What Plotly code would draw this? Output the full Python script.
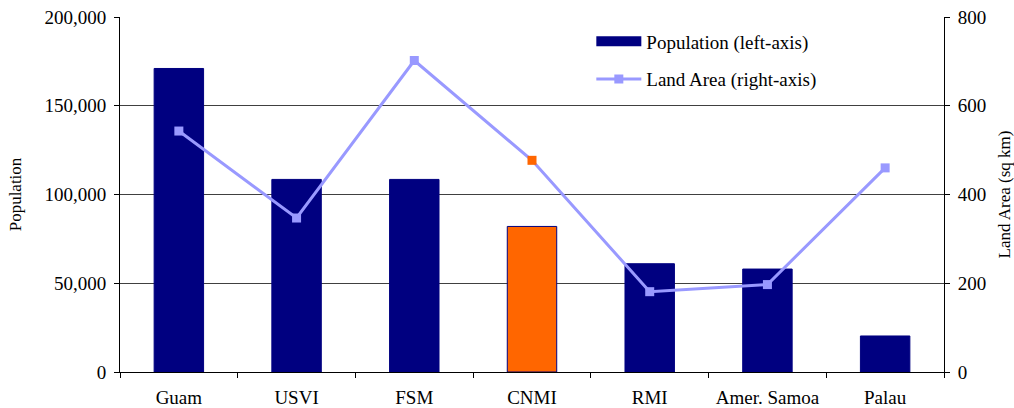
import plotly.graph_objects as go

# Territory data
territories = ["Guam", "USVI", "FSM", "CNMI", "RMI", "Amer. Samoa", "Palau"]
population = [171000, 108500, 108500, 82000, 61000, 58000, 20300]
land_area_sq_km = [543, 347, 702, 477, 181, 197, 460]

left_ticks = [0, 50000, 100000, 150000, 200000]
right_ticks = [0, 200, 400, 600, 800]

NAVY = "#000080"
ORANGE = "#FF6600"
PERIWINKLE = "#9999FF"
FONT = "Liberation Serif"
TICK_SIZE = 19

bar_colors = [ORANGE if t == "CNMI" else NAVY for t in territories]
marker_colors = [ORANGE if t == "CNMI" else PERIWINKLE for t in territories]

fig = go.Figure()

fig.add_trace(go.Bar(
    x=territories,
    y=population,
    name="Population (left-axis)",
    marker=dict(color=bar_colors, line=dict(color=NAVY, width=1)),
    yaxis="y",
    showlegend=False,
))

# legend entry for the bars, drawn as a wide swatch
fig.add_trace(go.Scatter(
    x=[None], y=[None],
    name="Population (left-axis)",
    mode="lines",
    line=dict(color=NAVY, width=12),
    legendgroup="pop",
    showlegend=True,
))

fig.add_trace(go.Scatter(
    x=territories,
    y=land_area_sq_km,
    name="Land Area (right-axis)",
    mode="lines+markers",
    line=dict(color=PERIWINKLE, width=3),
    marker=dict(symbol="square", size=9, color=marker_colors),
    yaxis="y2",
    legendgroup="area",
))

fig.update_layout(
    width=1014,
    height=408,
    margin=dict(l=120, r=70, t=17, b=36),
    paper_bgcolor="white",
    plot_bgcolor="white",
    font=dict(family=FONT, size=TICK_SIZE, color="black"),
    bargap=0.58,
    showlegend=True,
    legend=dict(
        x=0.572, y=0.985, xanchor="left", yanchor="top",
        bgcolor="rgba(0,0,0,0)",
        font=dict(family=FONT, size=TICK_SIZE, color="black"),
        tracegroupgap=10,
        itemwidth=45,
    ),
    xaxis=dict(
        type="category",
        automargin=False,
        showline=True, linecolor="black", linewidth=1,
        ticks="outside", tickson="boundaries", ticklen=5, tickcolor="black",
        ticklabelstandoff=8,
        showgrid=False,
        tickfont=dict(family=FONT, size=TICK_SIZE, color="black"),
    ),
    yaxis=dict(
        range=[0, 200000],
        tickvals=left_ticks,
        tickformat=",d",
        automargin=False,
        showline=True, linecolor="black", linewidth=1,
        ticks="outside", ticklen=5, tickcolor="black",
        ticklabelstandoff=4,
        showgrid=True, gridcolor="#404040", gridwidth=1,
        zeroline=False,
        title=dict(text="Population", font=dict(family=FONT, size=17, color="black"), standoff=18),
        tickfont=dict(family=FONT, size=TICK_SIZE, color="black"),
    ),
    yaxis2=dict(
        range=[0, 800],
        tickvals=right_ticks,
        overlaying="y",
        side="right",
        automargin=False,
        showline=True, linecolor="black", linewidth=1,
        ticks="outside", ticklen=5, tickcolor="black",
        ticklabelstandoff=4,
        showgrid=False, zeroline=False,
        title=dict(text="Land Area (sq km)", font=dict(family=FONT, size=17, color="black"), standoff=20),
        tickfont=dict(family=FONT, size=TICK_SIZE, color="black"),
    ),
)

fig.write_html("out.html")
